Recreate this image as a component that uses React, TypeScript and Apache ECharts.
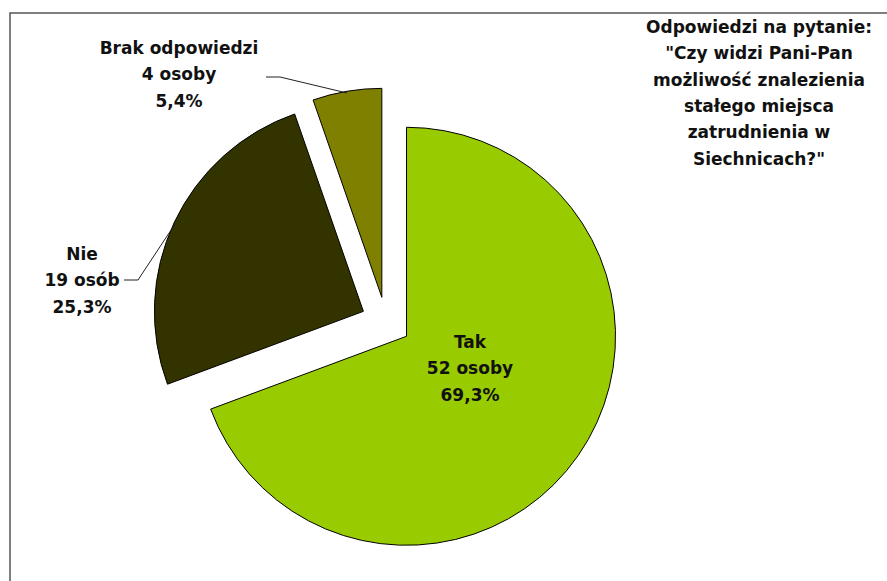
import React, { useEffect, useRef } from "react";
import * as echarts from "echarts";

const categories = ["Tak", "Nie", "Brak odpowiedzi"];
const counts = [52, 19, 4];
const countLabels = ["52 osoby", "19 osób", "4 osoby"];
const percentLabels = ["69,3%", "25,3%", "5,4%"];
const colors = ["#99cc00", "#333300", "#808000"];
const titleLines = [
  "Odpowiedzi na pytanie:",
  "\"Czy widzi Pani-Pan",
  "możliwość znalezienia",
  "stałego miejsca",
  "zatrudnienia w",
  "Siechnicach?\"",
];

const FONT = "DejaVu Sans";

export default function App() {
  const ref = useRef<HTMLDivElement>(null);
  useEffect(() => {
    if (!ref.current) return;
    const chart = echarts.init(ref.current, undefined, { renderer: "svg" });
    const labelPos = [
      { x: 470, y: 368, line: null as number[][] | null },
      { x: 82, y: 280, line: [[175, 224], [138, 280], [124, 280]] },
      { x: 179, y: 74, line: [[347, 93], [280, 77], [266, 77]] },
    ];
    const labelGraphics: any[] = [];
    categories.forEach((c, i) => {
      const lp = labelPos[i];
      labelGraphics.push({
        type: "text",
        x: lp.x,
        y: lp.y,
        silent: true,
        z: 10,
        style: {
          text: `${c}\n${countLabels[i]}\n${percentLabels[i]}`,
          x: 0,
          y: 0,
          align: "center",
          verticalAlign: "middle",
          fontFamily: FONT,
          fontWeight: "bold",
          fontSize: 17,
          lineHeight: 26.5,
          fill: "#111",
        },
      });
      if (lp.line) {
        labelGraphics.push({
          type: "polyline",
          silent: true,
          z: 10,
          shape: { points: lp.line },
          style: { stroke: "#222", lineWidth: 1, fill: "none" },
        });
      }
    });
    chart.setOption({
      animation: false,
      backgroundColor: "#ffffff",
      title: {
        text: titleLines.join("\n"),
        left: 759,
        top: 14,
        padding: 0,
        textAlign: "center",
        textStyle: {
          fontFamily: FONT,
          fontWeight: "bold",
          fontSize: 17,
          lineHeight: 26.3,
          color: "#111",
        },
      },
      graphic: [
        {
          type: "rect",
          shape: { x: 10, y: 13, width: 900, height: 620 },
          style: { fill: "none", stroke: "#555", lineWidth: 1.5 },
          silent: true,
          z: -1,
        },
        ...labelGraphics,
      ],
      series: [
        {
          type: "pie",
          center: [386, 322],
          radius: 209,
          startAngle: 90,
          clockwise: true,
          selectedMode: "multiple",
          selectedOffset: 25,
          avoidLabelOverlap: false,
          emphasis: { disabled: true },
          itemStyle: { borderColor: "#000", borderWidth: 1 },
          label: { show: false },
          labelLine: { show: false },
          data: categories.map((c, i) => ({
            name: c,
            value: counts[i],
            selected: true,
            itemStyle: { color: colors[i] },
          })),
        },
      ],
    });
    return () => chart.dispose();
  }, []);
  return (
    <div
      ref={ref}
      style={{ position: "absolute", left: 0, top: 0, width: 887, height: 581 }}
    />
  );
}
